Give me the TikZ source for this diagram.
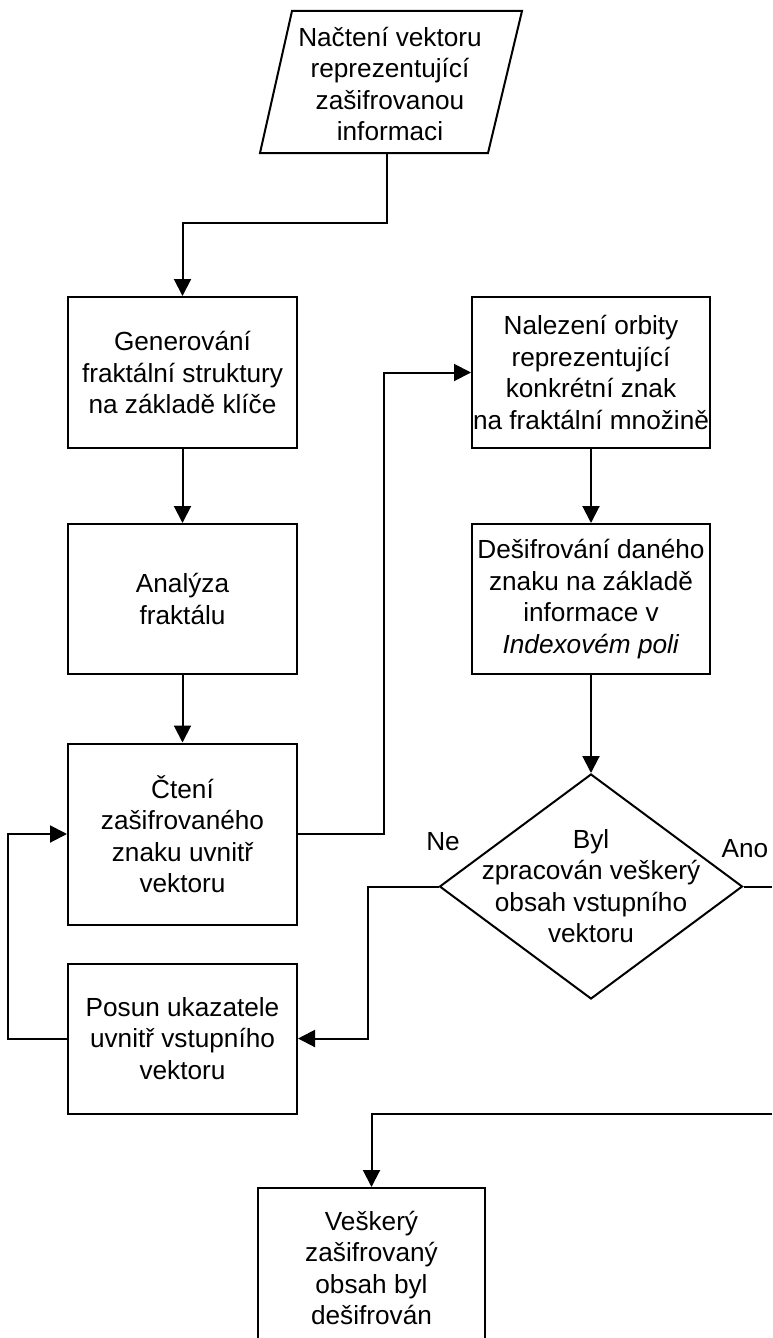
\documentclass[tikz,border=0pt]{standalone}
\usepackage{fontspec}
\setmainfont{Liberation Sans}
\usetikzlibrary{arrows.meta,shapes.geometric}

\begin{document}
\begin{tikzpicture}[x=1pt,y=-1pt,
  line width=2pt,
  every node/.style={font=\fontsize{26.2}{31.5}\selectfont},
  procbox/.style={draw, rectangle, inner sep=0pt, align=center},
  decision/.style={draw, diamond, inner sep=0pt},
  txt/.style={inner sep=0pt, align=center},
  flow/.style={-{Triangle[length=17pt,width=17pt]}, line join=miter}]
\useasboundingbox (0,0) rectangle (772,1338);
\clip (0,0) rectangle (772,1338);

% input (parallelogram)
\draw (292,11) -- (522,11) -- (488,153) -- (260,153) -- cycle;
\node[txt] (in) at (390,84) {Načtení vektoru\\reprezentující\\zašifrovanou\\informaci};
\coordinate (inout) at (387,153);

% left column
\node[procbox, minimum width=229pt, minimum height=151pt] (gen) at (182.5,372.5)
  {Generování\\fraktální struktury\\na základě klíče};
\node[procbox, minimum width=229pt, minimum height=150pt] (ana) at (182.5,599)
  {Analýza\\fraktálu};
\node[procbox, minimum width=229pt, minimum height=181pt] (cte) at (182.5,834)
  {Čtení\\zašifrovaného\\znaku uvnitř\\vektoru};
\node[procbox, minimum width=229pt, minimum height=150pt] (pos) at (182.5,1038.5)
  {Posun ukazatele\\uvnitř vstupního\\vektoru};

% right column
\node[procbox, minimum width=238pt, minimum height=151pt] (nal) at (591,372.5)
  {Nalezení orbity\\reprezentující\\konkrétní znak\\na fraktální množině};
\node[procbox, minimum width=238pt, minimum height=150pt] (des) at (591,599)
  {Dešifrování daného\\znaku na základě\\informace v\\\textit{Indexovém poli}};
\node[decision, minimum width=303pt, minimum height=225pt] (dia) at (591,886.5) {};
\node[txt] (diatext) at (591,886) {Byl\\zpracován veškerý\\obsah vstupního\\vektoru};
\node[txt] (ne) at (443,842) {Ne};
\node[txt] (ano) at (745,849) {Ano};

% final box
\node[procbox, minimum width=227pt, minimum height=160pt] (fin) at (371.5,1268)
  {Veškerý\\zašifrovaný\\obsah byl\\dešifrován};

% connectors
\draw[flow] (inout) -- ++(0,70) -| (gen.north);
\draw[flow] (gen) -- (ana);
\draw[flow] (ana) -- (cte);
\draw[flow] (cte.east) -- ++(86,0) |- (nal.west);
\draw[flow] (nal) -- (des);
\draw[flow] (des.south) -- (dia.north);
\draw[flow] (dia.west) -- ++(-71,0) |- (pos.east);
\draw[flow] (pos.west) -- ++(-59,0) |- (cte.west);
\coordinate (yesout) at (772,886.5);
\draw (dia.east) -- (yesout);
\coordinate (yesin) at (772,1114);
\draw[flow] (yesin) -| (fin.north);
\end{tikzpicture}
\end{document}
